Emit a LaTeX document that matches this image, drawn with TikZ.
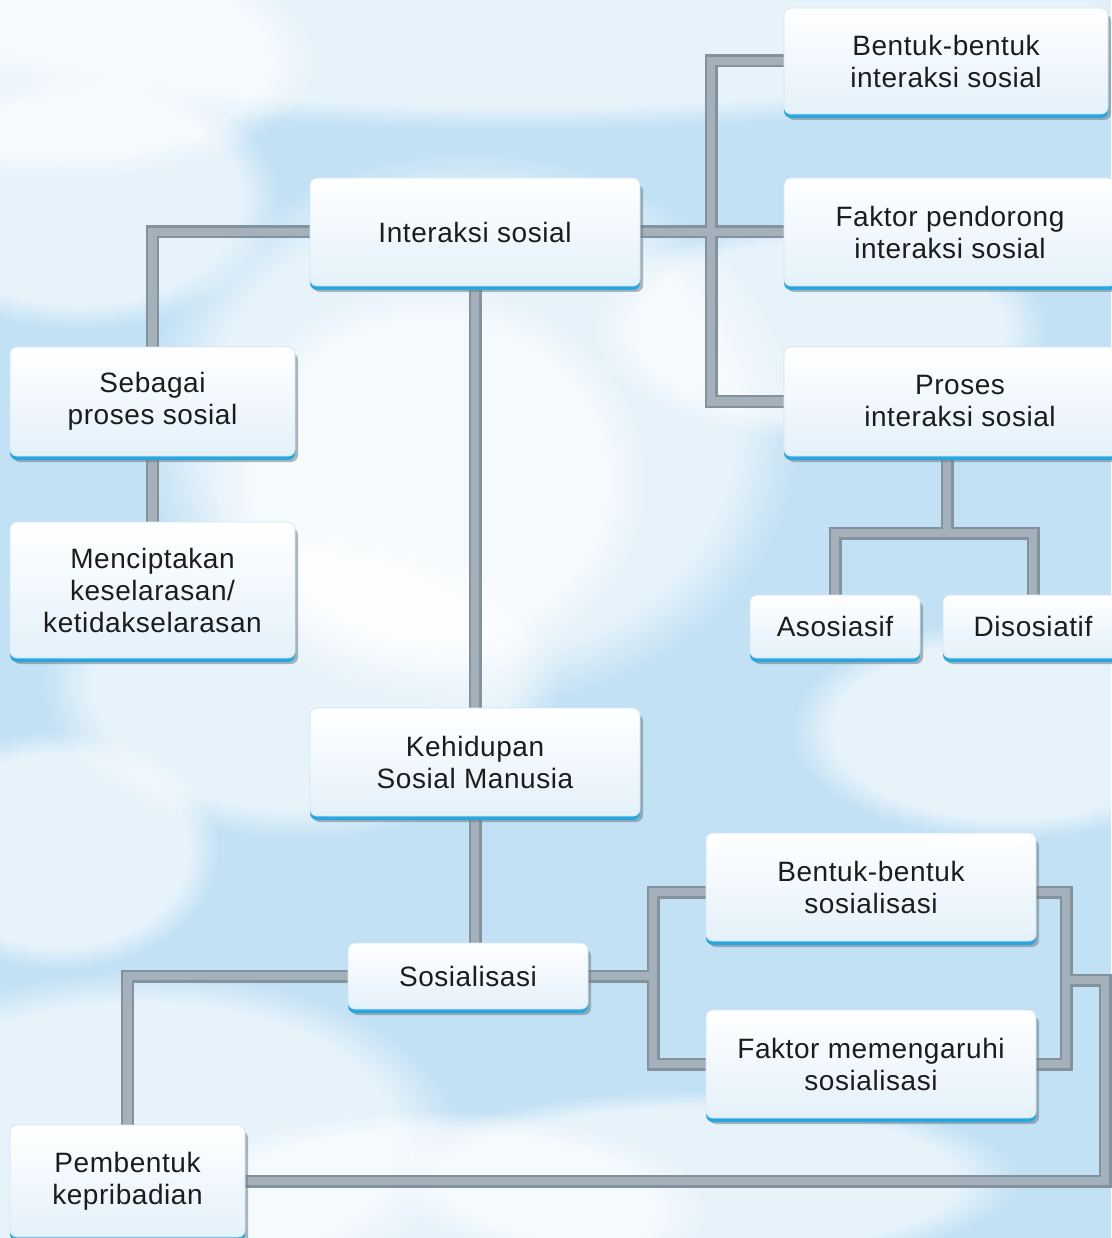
\documentclass[tikz,border=0pt]{standalone}
\usepackage{fontspec}
\setmainfont[LetterSpace=2]{Liberation Sans}
\usetikzlibrary{shadows,fadings}
\definecolor{skybase}{HTML}{C2E1F5}
\definecolor{boxfill}{HTML}{E4F1FA}
\definecolor{boxedge}{HTML}{D2E6F3}
\definecolor{edgeblue}{HTML}{2AA6DF}
\definecolor{shadowgray}{HTML}{6F7C86}
\definecolor{txt}{HTML}{1C1C1C}
\definecolor{linedark}{HTML}{84929D}
\definecolor{linelight}{HTML}{A5B1BA}
\pgfdeclarelayer{sky}
\pgfdeclarelayer{lines}
\pgfsetlayers{sky,lines,main}
\tikzset{
  box/.style={rectangle, rounded corners=7pt, draw=boxedge, line width=0.8pt,
    top color=white, bottom color=boxfill, align=center, inner sep=0pt,
    font=\fontsize{28}{32}\selectfont, text=txt,
    general shadow={fill=shadowgray, shadow xshift=3pt, shadow yshift=-6pt, opacity=0.55},
    general shadow={fill=edgeblue, shadow yshift=-4pt}},
  cloud/.style={fill=white, path fading=circle with fuzzy edge 20 percent, fill opacity=0.6},
}
\newcommand\mylinks{%
  \draw (inter.west) -| (seb.north);
  \draw (seb.south) -- (men.north);
  \draw (inter.east) -- (fak.west);
  \draw (bent.west) -- (bent.west -| tA) -- (pros.west -| tA) -- (pros.west);
  \draw (inter.south) -- (keh.north);
  \draw (pros.south -| pd) -- (pd |- pbar);
  \draw (asos.north) -- (asos.north |- pbar) -- (dis.north |- pbar) -- (dis.north);
  \draw (keh.south) -- (keh.south |- sos.north);
  \draw (sos.east) -- (sos.east -| tB);
  \draw ([yshift=-5pt]bsos.west) -- ([yshift=-5pt]bsos.west -| tB) -- (fsos.west -| tB) -- (fsos.west);
  \draw ([yshift=-5pt]bsos.east) -- ([yshift=-5pt]bsos.east -| tC) -- (fsos.east -| tC) -- (fsos.east);
  \draw ([yshift=-4pt]sos.east -| tC) -- ([yshift=-4pt]sos.east -| tD) -- (pemb.east -| tD) -- (pemb.east);
  \draw (sos.west) -| (pemb.north);
}
\begin{document}
\begin{tikzpicture}[x=1pt,y=-1pt]
\useasboundingbox (0,0) rectangle (1111,1238);
\begin{pgfonlayer}{sky}
  \fill[skybase] (0,0) rectangle (1111,1238);
  \fill[cloud] (520,10) ellipse [x radius=700, y radius=120];
  \fill[cloud] (60,60) ellipse [x radius=260, y radius=120];
  \fill[cloud] (80,200) ellipse [x radius=200, y radius=130];
  \fill[cloud] (470,430) ellipse [x radius=330, y radius=280];
  \fill[cloud] (430,480) ellipse [x radius=220, y radius=200];
  \fill[cloud] (300,680) ellipse [x radius=260, y radius=160];
  \fill[cloud] (820,330) ellipse [x radius=230, y radius=110];
  \fill[cloud] (1010,730) ellipse [x radius=220, y radius=110];
  \fill[cloud] (140,1140) ellipse [x radius=320, y radius=170];
  \fill[cloud] (430,1210) ellipse [x radius=280, y radius=100];
  \fill[cloud] (700,1180) ellipse [x radius=320, y radius=90];
  \fill[cloud] (60,850) ellipse [x radius=160, y radius=120];
\end{pgfonlayer}

\coordinate (tA) at (711,0);
\coordinate (tB) at (653,0);
\coordinate (tC) at (1066,0);
\coordinate (tD) at (1105,0);
\coordinate (pd) at (947,0);
\coordinate (pbar) at (0,533);

\node[box, minimum width=324pt, minimum height=106pt] (bent) at (946,61) {Bentuk-bentuk\\interaksi sosial};
\node[box, minimum width=332pt, minimum height=108pt] (fak) at (950,232) {Faktor pendorong\\interaksi sosial};
\node[box, minimum width=352pt, minimum height=109pt] (pros) at (960,401.5) {Proses\\interaksi sosial};
\node[box, minimum width=330pt, minimum height=108pt] (inter) at (475,232) {Interaksi sosial};
\node[box, minimum width=285pt, minimum height=109pt] (seb) at (152.5,401.5) {Sebagai\\proses sosial};
\node[box, minimum width=285pt, minimum height=136pt] (men) at (152.5,590) {Menciptakan\\keselarasan/\\ketidakselarasan};
\node[box, minimum width=170pt, minimum height=63pt] (asos) at (835,626.5) {Asosiasif};
\node[box, minimum width=180pt, minimum height=63pt] (dis) at (1033,626.5) {Disosiatif};
\node[box, minimum width=330pt, minimum height=108pt] (keh) at (475,762) {Kehidupan\\Sosial Manusia};
\node[box, minimum width=240pt, minimum height=66pt] (sos) at (468,976) {Sosialisasi};
\node[box, minimum width=330pt, minimum height=108pt] (bsos) at (871,887) {Bentuk-bentuk\\sosialisasi};
\node[box, minimum width=330pt, minimum height=108pt] (fsos) at (871,1064) {Faktor memengaruhi\\sosialisasi};
\node[box, minimum width=235pt, minimum height=112pt] (pemb) at (127.5,1181) {Pembentuk\\kepribadian};

\begin{pgfonlayer}{lines}
  \begin{scope}[draw=linedark, line width=13pt]
    \mylinks
  \end{scope}
  \begin{scope}[draw=linelight, line width=8.5pt]
    \mylinks
  \end{scope}
\end{pgfonlayer}
\end{tikzpicture}
\end{document}
